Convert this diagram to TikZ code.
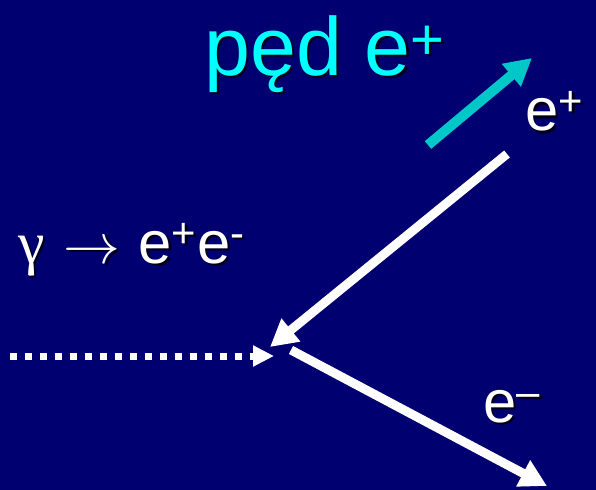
\documentclass[tikz,border=0pt]{standalone}
\usepackage{fontspec}
\setmainfont{Liberation Sans}
\newfontfamily\grkfont{Liberation Serif}
\usetikzlibrary{arrows.meta}
\definecolor{slidebg}{RGB}{0,0,112}
\definecolor{momcyan}{RGB}{0,200,200}
\definecolor{titlecyan}{RGB}{0,255,255}
\definecolor{txtshadow}{RGB}{0,0,25}

\begin{document}
\begin{tikzpicture}[x=0.02cm, y=-0.02cm, >={Triangle[length=0.54cm,width=0.56cm]}]
    \tikzset{
        track/.style={white, line width=0.18cm, ->},
        txt/.style={anchor=base west, inner sep=0pt, font=\fontsize{34}{40}\selectfont},
        bigtxt/.style={txt, font=\fontsize{47}{56}\selectfont},
    }
    % Slide background
    \fill[slidebg] (0,0) rectangle (596,490);
    \useasboundingbox (0,0) rectangle (596,490);

    % End points of the tracks
    \coordinate (gstart) at (10,356);
    \coordinate (gend) at (274,356);
    \coordinate (pstart) at (507,154);
    \coordinate (pend) at (270,347);
    \coordinate (estart) at (291,350);
    \coordinate (eend) at (547,486);
    \coordinate (mstart) at (428,145);
    \coordinate (mend) at (532,58);

    % Photon (dotted)
    \draw[white, line width=0.14cm, dash pattern=on 0.14cm off 0.16cm,
          -{Triangle[length=0.42cm,width=0.4cm]}] (gstart) -- (gend);

    % Positron and electron
    \draw[track] (pstart) -- (pend);
    \draw[track] (estart) -- (eend);

    % Momentum of the positron
    \draw[momcyan, line width=0.2cm, ->] (mstart) -- (mend);

    % Labels (with shadow)
    \node[bigtxt, text=txtshadow] (titleS) at (206.5,77.5) {pęd e\textsuperscript{+}};
    \node[bigtxt, text=titlecyan] (title) at (204,75) {pęd e\textsuperscript{+}};

    \node[txt, text=txtshadow] (posS) at (527.5,133.5) {e\textsuperscript{+}};
    \node[txt, text=white] (pos) at (525,131) {e\textsuperscript{+}};

    \node[txt, text=txtshadow] (reacS) at (20.5,265.5) {{\grkfont γ}\hspace{0.38cm}\scalebox{1.3}{$\rightarrow$}\hspace{0.36cm}e\textsuperscript{+}e\textsuperscript{-}};
    \node[txt, text=white] (reac) at (18,263) {{\grkfont γ}\hspace{0.38cm}\scalebox{1.3}{$\rightarrow$}\hspace{0.36cm}e\textsuperscript{+}e\textsuperscript{-}};

    \node[txt, text=txtshadow] (eleS) at (485.5,424.5) {e\textsuperscript{–}};
    \node[txt, text=white] (ele) at (483,422) {e\textsuperscript{–}};
\end{tikzpicture}
\end{document}
